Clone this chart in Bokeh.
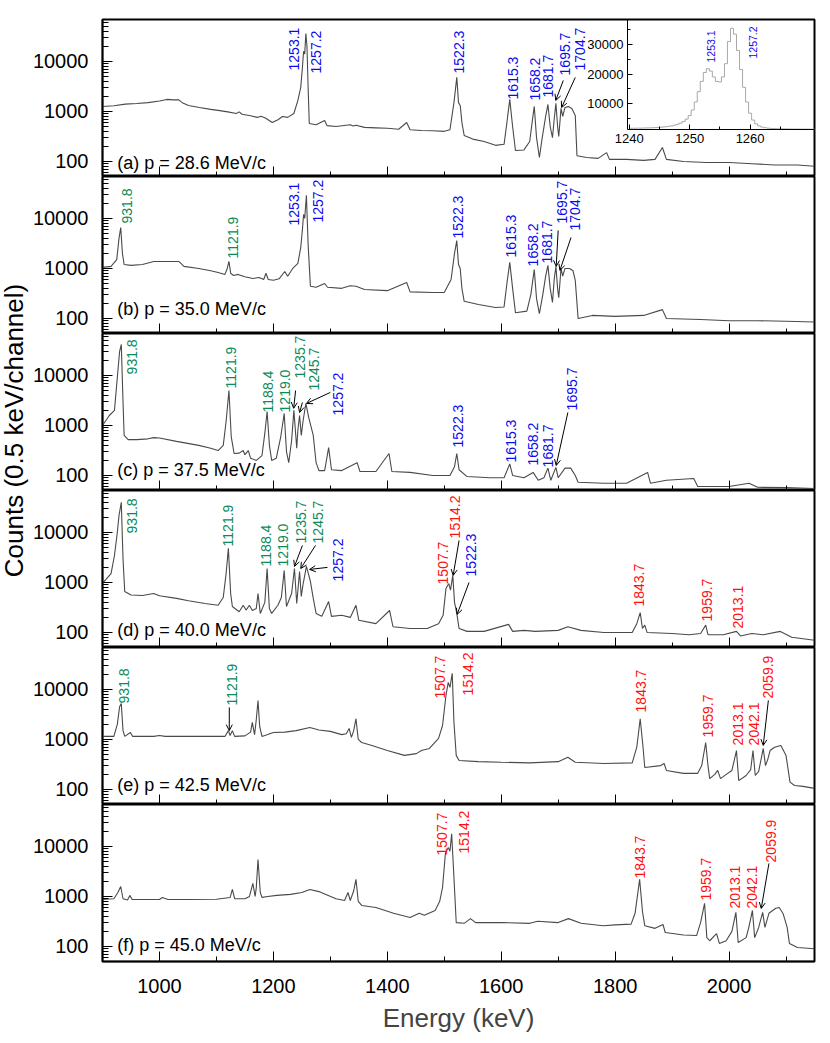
import math
from bokeh.plotting import figure
from bokeh.layouts import column, row
from bokeh.models import (Range1d, FixedTicker, NumeralTickFormatter, LinearAxis, LinearScale,
                          Arrow, OpenHead, ColumnDataSource, CustomJSTickFormatter)
from bokeh.core.properties import value
from bokeh.embed import file_html
from bokeh.resources import INLINE

# ======================= DATA =======================
titles = ["(a) p = 28.6 MeV/c", "(b) p = 35.0 MeV/c", "(c) p = 37.5 MeV/c",
          "(d) p = 40.0 MeV/c", "(e) p = 42.5 MeV/c", "(f) p = 45.0 MeV/c"]

a_energy = [900, 920, 940, 960, 980, 1000, 1013, 1025, 1034, 1040, 1051, 1070, 1090, 1103, 1120, 1135, 1140, 1145, 1160, 1172,
            1178, 1186, 1198, 1208, 1216, 1225, 1236, 1243, 1248, 1251, 1253, 1255, 1257, 1259, 1261, 1263, 1275, 1290, 1294, 1310,
            1335, 1340, 1345, 1360, 1380, 1400, 1420, 1434, 1440, 1460, 1480, 1500, 1510, 1517, 1522, 1525, 1528, 1531, 1535, 1550,
            1570, 1590, 1605, 1610, 1615, 1620, 1625, 1640, 1650, 1655, 1658, 1662, 1667, 1672, 1678, 1682, 1686, 1690, 1693, 1696,
            1699, 1701, 1705, 1708, 1712, 1718, 1724, 1730, 1733, 1750, 1770, 1785, 1790, 1820, 1850, 1870, 1883, 1890, 1920, 1960,
            2000, 2040, 2080, 2120, 2150]
a_counts = [1260, 1300, 1400, 1440, 1500, 1620, 1740, 1700, 1700, 1500, 1320, 1200, 1100, 1050, 980, 910, 980, 880, 820, 760,
            800, 740, 600, 680, 790, 760, 910, 1660, 3000, 7600, 16000, 14000, 36000, 20000, 3000, 575, 540, 660, 520, 500,
            540, 510, 530, 480, 470, 460, 440, 600, 430, 417, 410, 400, 430, 1500, 4800, 1500, 1320, 600, 330, 280,
            250, 210, 220, 600, 1740, 500, 166, 170, 250, 700, 1260, 300, 120, 300, 800, 1380, 500, 300, 700, 1450,
            500, 315, 1150, 800, 1200, 1250, 1150, 830, 130, 120, 115, 150, 110, 110, 105, 110, 190, 110, 100, 95,
            95, 90, 85, 85, 80]

b_energy = [900, 915, 925, 929, 932, 935, 938, 950, 970, 990, 1010, 1034, 1043, 1069, 1090, 1103, 1115, 1119, 1122, 1125,
            1130, 1138, 1150, 1164, 1175, 1183, 1187, 1191, 1200, 1210, 1220, 1225, 1234, 1243, 1248, 1251, 1253, 1255, 1258, 1261,
            1265, 1275, 1290, 1295, 1320, 1335, 1345, 1360, 1400, 1434, 1440, 1480, 1500, 1512, 1518, 1522, 1525, 1528, 1531, 1535,
            1560, 1590, 1605, 1610, 1615, 1620, 1625, 1645, 1652, 1658, 1662, 1667, 1673, 1678, 1682, 1686, 1690, 1693, 1696, 1699,
            1701, 1705, 1708, 1712, 1720, 1726, 1730, 1735, 1760, 1800, 1850, 1883, 1890, 1950, 2000, 2050, 2100, 2150]
b_counts = [1050, 1100, 1500, 4000, 6600, 2000, 1200, 1150, 1200, 1380, 1380, 1380, 1100, 1000, 900, 830, 760, 1000, 1380, 800,
            724, 760, 680, 630, 660, 600, 800, 600, 580, 620, 870, 700, 1000, 1260, 2600, 6000, 12000, 10000, 29000, 3000,
            440, 420, 500, 420, 400, 450, 440, 380, 360, 525, 340, 330, 330, 600, 2000, 3600, 1200, 1000, 400, 220,
            190, 165, 170, 500, 1320, 400, 130, 140, 300, 950, 250, 125, 300, 700, 1150, 400, 210, 600, 1100, 400,
            260, 1000, 700, 1000, 1000, 900, 575, 100, 115, 110, 115, 150, 100, 95, 90, 90, 88, 85]

c_energy = [900, 912, 921, 926, 930, 933, 936, 938, 945, 960, 980, 990, 1000, 1030, 1069, 1090, 1103, 1112, 1117, 1122,
            1126, 1131, 1140, 1147, 1150, 1156, 1160, 1170, 1180, 1185, 1189, 1193, 1197, 1205, 1213, 1219, 1223, 1227, 1232, 1236,
            1239, 1241, 1243, 1246, 1249, 1252, 1257, 1262, 1270, 1275, 1280, 1290, 1297, 1302, 1320, 1347, 1352, 1380, 1403, 1408,
            1440, 1480, 1510, 1518, 1522, 1526, 1540, 1580, 1605, 1615, 1620, 1640, 1656, 1665, 1675, 1682, 1687, 1696, 1700, 1712,
            1722, 1730, 1735, 1780, 1820, 1857, 1862, 1890, 1938, 1945, 2000, 2035, 2050, 2100, 2150]
c_counts = [1000, 1580, 2000, 9000, 30000, 41700, 3000, 630, 520, 520, 540, 570, 560, 480, 400, 350, 315, 400, 1200, 5000,
            600, 275, 280, 315, 260, 315, 220, 200, 250, 700, 1900, 400, 200, 220, 600, 1740, 300, 180, 500, 2000,
            700, 350, 800, 1580, 630, 1200, 2750, 1450, 630, 180, 125, 125, 360, 130, 125, 180, 120, 120, 275, 120,
            115, 100, 100, 150, 275, 130, 95, 90, 90, 170, 100, 90, 115, 80, 90, 140, 80, 145, 90, 140,
            140, 100, 73, 70, 70, 115, 70, 80, 87, 60, 60, 70, 58, 57, 55]

d_energy = [900, 915, 921, 926, 929, 933, 936, 939, 950, 970, 990, 1000, 1030, 1051, 1080, 1103, 1112, 1117, 1121, 1125,
            1128, 1140, 1147, 1152, 1158, 1163, 1170, 1173, 1177, 1185, 1189, 1193, 1197, 1208, 1214, 1219, 1223, 1232, 1237, 1241,
            1246, 1249, 1252, 1258, 1265, 1270, 1275, 1285, 1297, 1302, 1320, 1335, 1345, 1350, 1380, 1404, 1410, 1440, 1470, 1490,
            1498, 1503, 1508, 1511, 1515, 1518, 1522, 1526, 1540, 1570, 1613, 1620, 1640, 1660, 1700, 1717, 1740, 1780, 1830, 1838,
            1844, 1848, 1852, 1856, 1900, 1930, 1950, 1959, 1963, 1990, 2013, 2020, 2040, 2060, 2090, 2110, 2150]
d_counts = [955, 1500, 3460, 10000, 22000, 40000, 3000, 660, 560, 550, 600, 540, 480, 430, 380, 350, 500, 1500, 4800, 600,
            330, 260, 350, 280, 350, 275, 300, 600, 240, 400, 1900, 300, 240, 350, 500, 1740, 330, 600, 1900, 380,
            1660, 525, 900, 2100, 1050, 480, 240, 210, 415, 210, 220, 200, 350, 175, 150, 275, 130, 120, 120, 150,
            220, 760, 950, 700, 1380, 400, 240, 120, 105, 105, 145, 105, 110, 105, 110, 130, 110, 100, 100, 150,
            250, 120, 140, 100, 95, 90, 95, 140, 90, 90, 105, 85, 95, 90, 105, 80, 70]

e_energy = [900, 920, 926, 930, 933, 936, 939, 949, 953, 990, 1000, 1010, 1050, 1100, 1115, 1121, 1124, 1128, 1132, 1150,
            1160, 1163, 1167, 1170, 1173, 1176, 1180, 1190, 1200, 1220, 1240, 1264, 1280, 1300, 1320, 1328, 1333, 1337, 1341, 1345,
            1349, 1355, 1373, 1400, 1430, 1451, 1460, 1474, 1490, 1497, 1503, 1507, 1510, 1514, 1517, 1521, 1526, 1560, 1600, 1650,
            1700, 1717, 1730, 1780, 1830, 1838, 1844, 1849, 1852, 1880, 1886, 1890, 1920, 1945, 1952, 1959, 1963, 1966, 1975, 1980,
            1985, 1995, 2005, 2013, 2017, 2030, 2038, 2042, 2046, 2052, 2060, 2064, 2068, 2072, 2080, 2091, 2100, 2107, 2115, 2130,
            2150]
e_counts = [1150, 1150, 2000, 4500, 5250, 1500, 1150, 1380, 1150, 1150, 1200, 1150, 1150, 1150, 1150, 1500, 1200, 1500, 1150, 1180,
            1400, 2200, 1250, 2500, 6000, 1800, 1150, 1250, 1380, 1400, 1500, 1740, 1550, 1450, 1250, 1300, 1660, 1100, 1500, 2600,
            1000, 870, 760, 600, 480, 520, 600, 660, 1050, 1900, 7600, 13800, 11000, 21000, 2200, 480, 380, 360, 350, 340,
            360, 440, 350, 330, 340, 700, 2600, 700, 275, 300, 330, 240, 210, 210, 300, 870, 300, 165, 200, 240,
            165, 200, 240, 600, 150, 190, 250, 600, 190, 230, 660, 300, 400, 600, 700, 760, 480, 140, 120, 115,
            105]

f_energy = [900, 920, 927, 932, 936, 944, 948, 952, 1000, 1005, 1015, 1050, 1100, 1124, 1128, 1132, 1150, 1158, 1164, 1168,
            1170, 1173, 1177, 1180, 1190, 1206, 1230, 1250, 1264, 1280, 1288, 1310, 1325, 1331, 1335, 1341, 1345, 1349, 1355, 1380,
            1411, 1440, 1456, 1465, 1484, 1492, 1497, 1502, 1507, 1510, 1513, 1517, 1521, 1535, 1546, 1555, 1600, 1650, 1664, 1700,
            1718, 1740, 1779, 1800, 1828, 1835, 1843, 1848, 1852, 1870, 1884, 1888, 1920, 1943, 1950, 1957, 1961, 1966, 1978, 1983,
            1995, 2005, 2012, 2016, 2030, 2035, 2041, 2045, 2052, 2059, 2063, 2070, 2082, 2088, 2095, 2102, 2106, 2120, 2150]
f_counts = [870, 900, 1200, 1580, 900, 850, 1050, 870, 870, 950, 870, 870, 880, 950, 1380, 900, 900, 1000, 1820, 1000,
            1500, 5500, 1200, 960, 1000, 1050, 1100, 1200, 1380, 1250, 1150, 900, 830, 1200, 830, 1300, 2200, 800, 660, 600,
            460, 380, 460, 420, 525, 800, 1520, 7200, 9500, 8000, 18000, 2400, 300, 290, 360, 300, 300, 290, 320, 300,
            360, 290, 260, 270, 280, 460, 2200, 500, 260, 230, 275, 190, 170, 165, 300, 730, 150, 130, 180, 115,
            130, 200, 480, 120, 150, 250, 525, 150, 240, 480, 240, 460, 580, 600, 450, 240, 115, 95, 90]

# peak labels (texts) per panel
a_peaks = ["1253.1", "1257.2", "1522.3", "1615.3", "1658.2", "1681.7", "1695.7", "1704.7"]
b_peaks = ["931.8", "1121.9", "1253.1", "1257.2", "1522.3", "1615.3", "1658.2", "1681.7", "1695.7", "1704.7"]
c_peaks = ["931.8", "1121.9", "1188.4", "1219.0", "1235.7", "1245.7", "1257.2", "1522.3", "1615.3", "1658.2",
           "1681.7", "1695.7"]
d_peaks = ["931.8", "1121.9", "1188.4", "1219.0", "1235.7", "1245.7", "1257.2", "1507.7", "1514.2", "1522.3",
           "1843.7", "1959.7", "2013.1"]
e_peaks = ["931.8", "1121.9", "1507.7", "1514.2", "1843.7", "1959.7", "2013.1", "2042.1", "2059.9"]
f_peaks = ["1507.7", "1514.2", "1843.7", "1959.7", "2013.1", "2042.1", "2059.9"]

# inset: 1253.1 / 1257.2 doublet, counts per 0.5 keV channel
inset_energy = [1240.0, 1240.5, 1241.0, 1241.5, 1242.0, 1242.5, 1243.0, 1243.5, 1244.0, 1244.5, 1245.0, 1245.5, 1246.0,
                1246.5, 1247.0, 1247.5, 1248.0, 1248.5, 1249.0, 1249.5, 1250.0, 1250.5, 1251.0, 1251.5, 1252.0, 1252.5,
                1253.0, 1253.5, 1254.0, 1254.5, 1255.0, 1255.5, 1256.0, 1256.5, 1257.0, 1257.5, 1258.0, 1258.5, 1259.0,
                1259.5, 1260.0, 1260.5, 1261.0, 1261.5, 1262.0, 1262.5, 1263.0, 1263.5, 1264.0, 1264.5, 1265.0, 1265.5,
                1266.0, 1266.5, 1267.0, 1267.5, 1268.0, 1268.5, 1269.0, 1269.5, 1270.0, 1270.5, 1271.0]
inset_counts = [1600, 1600, 1620, 1650, 1650, 1700, 1720, 1760, 1800, 1850, 1920, 2000, 2100,
                2250, 2400, 2650, 2950, 3350, 3900, 4700, 5900, 7800, 10500, 14000, 17500, 20500,
                21800, 21000, 19000, 17500, 17300, 19000, 23500, 31000, 35500, 33500, 28000, 21500, 15500,
                10500, 6700, 4400, 3100, 2400, 2000, 1800, 1650, 1550, 1500, 1450, 1420, 1400,
                1380, 1360, 1350, 1340, 1330, 1320, 1310, 1300, 1300, 1290, 1290]
inset_peaks = ["1253.1", "1257.2"]

x_major = [1000, 1200, 1400, 1600, 1800, 2000]
x_minor = [1100, 1300, 1500, 1700, 1900, 2100]
y_major = [100, 1000, 10000]
y_minor = [60, 70, 80, 90, 200, 300, 400, 500, 600, 700, 800, 900,
           2000, 3000, 4000, 5000, 6000, 7000, 8000, 9000, 20000, 30000, 40000, 50000, 60000]

# ======================= LAYOUT (positions / styles) =======================
FONT = "Liberation Sans"
COL = {"b": "#0a0af0", "g": "#0b8a5a", "r": "#ff1010"}
LINE = "#4a4a4a"
FW, FH = 719, 157
YLAB_W = 29
LEFT_B = 66
RIGHT_B = 6
TOP_B = 19
BOT_B = 80

panels = [
    dict(energy=a_energy, counts=a_counts, peaks=a_peaks, ty=91,
         lx=[1235.7, 1275.7, 1526, 1620, 1660, 1683, 1712, 1738],
         ly=[6600, 5750, 5750, 1740, 1660, 1900, 5250, 6600], lc="bbbbbbbb",
         arrows=[(1709, 4170, 1695.7, 1660), (1730, 4790, 1706, 1200)]),
    dict(energy=b_energy, counts=b_counts, peaks=b_peaks, ty=158,
         lx=[943.5, 1129.6, 1235.7, 1279, 1524.3, 1616.5, 1656.5, 1680.9, 1707, 1729.6],
         ly=[7940, 1585, 7240, 8300, 3980, 1660, 1100, 1260, 7940, 5750], lc="ggbbbbbbbb",
         arrows=[(1700, 5750, 1696.5, 1100), (1722.6, 4170, 1703, 912)]),
    dict(energy=c_energy, counts=c_counts, peaks=c_peaks, ty=126,
         lx=[952, 1126, 1190, 1220, 1246, 1272, 1314, 1524, 1616.5, 1656.5, 1682.6, 1724],
         ly=[10500, 5500, 1820, 1820, 8700, 5000, 1585, 363, 182, 158, 145, 2000], lc="ggggggbbbbbb",
         arrows=[(1239, 5000, 1235.6, 2200), (1251, 2880, 1246, 1820), (1300, 4570, 1258, 2750),
                 (1717, 1820, 1696.5, 158)]),
    dict(energy=d_energy, counts=d_counts, peaks=d_peaks, ty=110,
         lx=[952, 1121, 1187, 1216.5, 1248, 1279, 1314, 1498, 1519, 1547, 1842.6, 1961, 2016.5],
         ly=[9550, 5250, 2090, 2090, 6030, 6030, 1050, 912, 7600, 1320, 330, 166, 120], lc="ggggggbrrbrrr",
         arrows=[(1251, 5500, 1237, 2090), (1274, 5500, 1248, 1900), (1295, 2000, 1263.5, 1820),
                 (1526, 6900, 1515.6, 1380), (1543.5, 1000, 1522.6, 230)]),
    dict(energy=e_energy, counts=e_counts, peaks=e_peaks, ty=120,
         lx=[937, 1128, 1493, 1542, 1846, 1962.6, 2016.5, 2044, 2069],
         ly=[5250, 4790, 6600, 7600, 3470, 1100, 760, 760, 6600], lc="ggrrrrrrr",
         arrows=[(1122.6, 4370, 1122.6, 1500), (2069, 6030, 2060, 760)]),
    dict(energy=f_energy, counts=f_counts, peaks=f_peaks, ty=105,
         lx=[1496.5, 1535, 1844, 1959, 2011, 2041, 2074],
         ly=[6600, 7240, 2290, 830, 575, 575, 4790], lc="rrrrrrr",
         arrows=[(2070, 4570, 2056.5, 575)]),
]


def style_axis(ax):
    ax.axis_line_color = "black"
    ax.axis_line_width = 1.5
    ax.major_tick_line_color = "black"
    ax.minor_tick_line_color = "black"
    ax.major_tick_out = 0
    ax.minor_tick_out = 0
    ax.major_label_text_font = FONT
    ax.major_label_text_color = "black"


figs = []
for i, cfg in enumerate(panels):
    first, last = i == 0, i == len(panels) - 1
    top_b = TOP_B if first else 0
    bot_b = BOT_B if last else 0
    p = figure(width=LEFT_B + FW + RIGHT_B, height=FH + top_b + bot_b,
               x_range=Range1d(900, 2150), y_range=Range1d(50, 69000),
               y_axis_type="log", output_backend="svg", toolbar_location=None,
               min_border_left=LEFT_B, min_border_right=RIGHT_B,
               min_border_top=top_b, min_border_bottom=bot_b,
               background_fill_color="white", border_fill_color="white")
    p.grid.visible = False
    p.outline_line_color = "black"
    p.outline_line_width = 2

    xa = p.below[0]
    ya = p.left[0]
    style_axis(xa)
    style_axis(ya)
    xa.ticker = FixedTicker(ticks=x_major, minor_ticks=x_minor)
    xa.major_tick_in = 10
    xa.minor_tick_in = 5
    if last:
        xa.major_label_text_font_size = "20px"
        xa.major_label_standoff = 17
        xa.axis_label = "Energy (keV)"
        xa.axis_label_text_font = FONT
        xa.axis_label_text_font_size = "26px"
        xa.axis_label_text_font_style = "normal"
        xa.axis_label_standoff = 7
    else:
        xa.fixed_location = 50
        xa.formatter = CustomJSTickFormatter(code="return ''")
        xa.major_label_standoff = 0

    ya.ticker = FixedTicker(ticks=y_major, minor_ticks=y_minor)
    ya.formatter = NumeralTickFormatter(format="0")
    ya.major_tick_in = 10
    ya.minor_tick_in = 6
    ya.major_label_text_font_size = "20px"
    ya.major_label_standoff = 14

    # spectrum
    p.line(cfg["energy"], cfg["counts"], line_color=LINE, line_width=1.1)

    # peak labels
    src = ColumnDataSource(dict(x=cfg["lx"], y=cfg["ly"], text=cfg["peaks"],
                                color=[COL[c] for c in cfg["lc"]]))
    p.text(x="x", y="y", text="text", source=src, text_color="color", angle=math.pi / 2,
           text_align="left", text_baseline="middle", text_font_size="14px", text_font=value(FONT))
    for (x0, y0, x1, y1) in cfg["arrows"]:
        p.add_layout(Arrow(end=OpenHead(size=6, line_width=1, line_color="black"),
                           x_start=x0, y_start=y0, x_end=x1, y_end=y1,
                           line_width=1, line_color="black"))

    # panel title
    p.text(x=[926], y=[cfg["ty"]], text=[titles[i]], text_align="left", text_baseline="middle",
           text_font_size="18px", text_font=value(FONT), text_color="black")

    if first:
        # inset (own linear ranges mapped onto the upper right part of the frame)
        p.extra_x_ranges = {"ix": Range1d(1152.8, 1270.66)}
        p.extra_y_ranges = {"iy": Range1d(-14746, 38475)}
        p.extra_x_scales = {"ix": LinearScale()}
        p.extra_y_scales = {"iy": LinearScale()}
        p.step(inset_energy, inset_counts, mode="center", x_range_name="ix", y_range_name="iy",
               line_color="#a8a8a8", line_width=1)
        iy_ax = LinearAxis(x_range_name="ix", y_range_name="iy", fixed_location=1239.7,
                           bounds=(1085, 38475),
                           ticker=FixedTicker(ticks=[10000, 20000, 30000],
                                              minor_ticks=[5000, 15000, 25000, 35000]))
        ix_ax = LinearAxis(x_range_name="ix", y_range_name="iy", fixed_location=1085,
                           bounds=(1239.7, 1270.66),
                           ticker=FixedTicker(ticks=[1240, 1250, 1260], minor_ticks=[1245, 1255, 1265]))
        for ax in (iy_ax, ix_ax):
            style_axis(ax)
            ax.axis_line_width = 1
            ax.major_tick_in = 5
            ax.minor_tick_in = 3
            ax.major_label_text_font_size = "13px"
            ax.major_label_standoff = 4
        p.add_layout(iy_ax, "left")
        p.add_layout(ix_ax, "below")
        p.text(x=[1253.6, 1260.5], y=[23900, 25250], text=inset_peaks, x_range_name="ix", y_range_name="iy",
               angle=math.pi / 2, text_align="left", text_baseline="middle", text_font_size="10.5px",
               text_font=value(FONT), text_color=COL["b"])
    figs.append(p)

total_h = TOP_B + 6 * FH + BOT_B
ylab = figure(width=YLAB_W, height=total_h, x_range=Range1d(0, YLAB_W), y_range=Range1d(0, total_h),
              output_backend="svg", toolbar_location=None, min_border=0,
              x_axis_location=None, y_axis_location=None,
              background_fill_color="white", border_fill_color="white")
ylab.grid.visible = False
ylab.outline_line_color = None
ylab.text(x=[13], y=[total_h - 430], text=["Counts (0.5 keV/channel)"], angle=math.pi / 2,
          text_align="center", text_baseline="middle", text_font_size="26px",
          text_font=value(FONT), text_color="black")

layout = row(ylab, column(*figs))
open("out.html", "w").write(file_html(layout, INLINE))
